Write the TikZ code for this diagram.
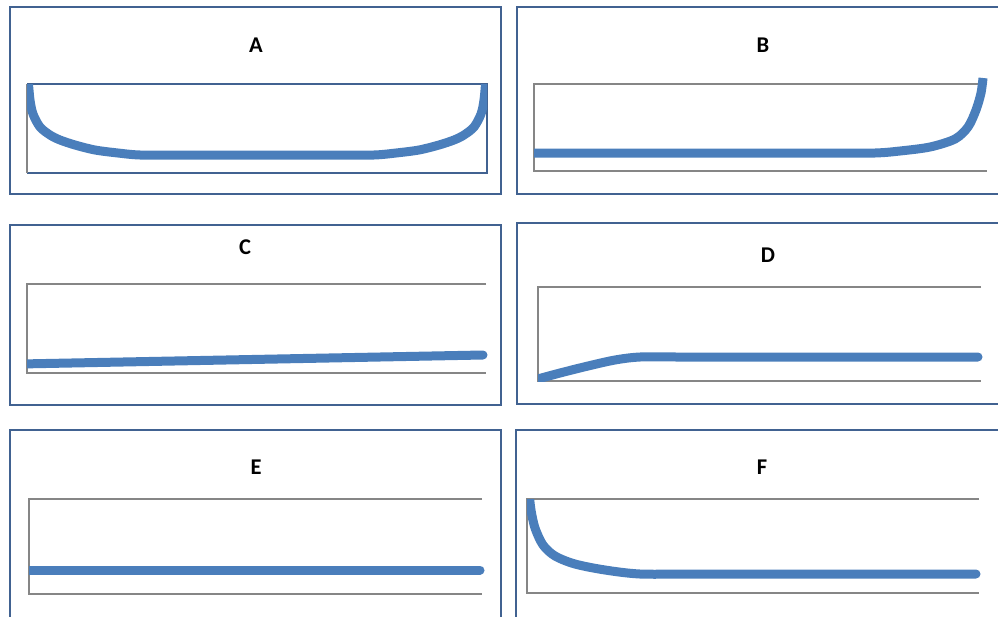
\documentclass[tikz,border=0pt]{standalone}
\usepackage{fontspec}
\setmainfont{Carlito}
\definecolor{framec}{RGB}{65,98,145}
\definecolor{axisc}{RGB}{134,134,134}
\definecolor{curvec}{RGB}{74,126,187}
\begin{document}
\begin{tikzpicture}[x=1pt,y=-1pt,
  panel/.style={draw=framec,line width=1.5pt},
  axisline/.style={draw=axisc,line width=1.4pt},
  curve/.style={draw=curvec,line width=9pt,line join=round},
  ttl/.style={font=\fontsize{22.5}{26}\selectfont\bfseries,inner sep=0pt}]
\clip (0,0) rectangle (998,616);
\fill[white] (0,0) rectangle (998,616);
% Frames
\draw[panel] (10,7) rectangle (501,194);
\draw[panel] (517,7) rectangle (1010,194);
\draw[panel] (10,225) rectangle (501,405);
\draw[panel] (517,223) rectangle (1010,404);
\draw[panel] (10,430) rectangle (501,630);
\draw[panel] (516,430) rectangle (1010,630);
% Titles
\node[ttl] (tA) at (256,45) {A};
\node[ttl] (tB) at (763,45) {B};
\node[ttl] (tC) at (245,247) {C};
\node[ttl] (tD) at (768,255) {D};
\node[ttl] (tE) at (256,467) {E};
\node[ttl] (tF) at (762,467) {F};
% Panel A
\draw[framec,line width=1.4pt] (27,84) -- (487,84) -- (487,173) -- (27,173);
\draw[axisline] (27,84) -- (27,173);
\begin{scope}
\clip (27,84) rectangle (487,180);
\draw[curve] plot[smooth,tension=0.5] coordinates {(28,78) (30,100) (33,114) (40,127) (50,135) (60,140) (75,145) (95,150) (118,153) (140,155) (180,155) (257,155) (334,155) (374,155) (396,153) (419,150) (439,145) (454,140) (464,135) (474,127) (481,114) (484,100) (486,78)};
\end{scope}
% Panel B
\draw[axisline] (987,84) -- (534,84) -- (534,171) -- (987,171);
\begin{scope}
\clip (534,70) rectangle (998,180);
\draw[curve] plot[smooth,tension=0.5] coordinates {(530,153) (700,153) (830,153) (875,153) (900,151) (930,147) (955,139) (968,127) (976,110) (981,93) (983,78)};
\end{scope}
% Panel C
\draw[axisline] (486,284) -- (27,284) -- (27,373) -- (486,373);
\begin{scope}
\clip (27,270) rectangle (500,380);
\draw[curve,line cap=round] (20,364) -- (483,355);
\end{scope}
% Panel D
\draw[axisline] (981,287) -- (538,287) -- (538,381) -- (981,381);
\begin{scope}
\clip (538,270) rectangle (998,381);
\draw[curve,line cap=round] plot[smooth,tension=0.5] coordinates {(534,380) (560,373) (588,366) (615,360) (640,357) (680,357) (800,357) (978,357)};
\end{scope}
% Panel E
\draw[axisline] (482,499) -- (29,499) -- (29,594) -- (482,594);
\begin{scope}
\clip (29,480) rectangle (500,600);
\draw[curve,line cap=round] (20,570) -- (480,570);
\end{scope}
% Panel F
\draw[axisline] (979,499) -- (527,499) -- (527,593) -- (979,593);
\begin{scope}
\clip (527,499) rectangle (998,600);
\draw[curve,line cap=round] plot[smooth,tension=0.5] coordinates {(529,492) (531,510) (535,528) (543,545) (555,556) (575,564) (605,570) (640,574) (690,574) (800,574) (976,574)};
\end{scope}
\end{tikzpicture}
\end{document}
